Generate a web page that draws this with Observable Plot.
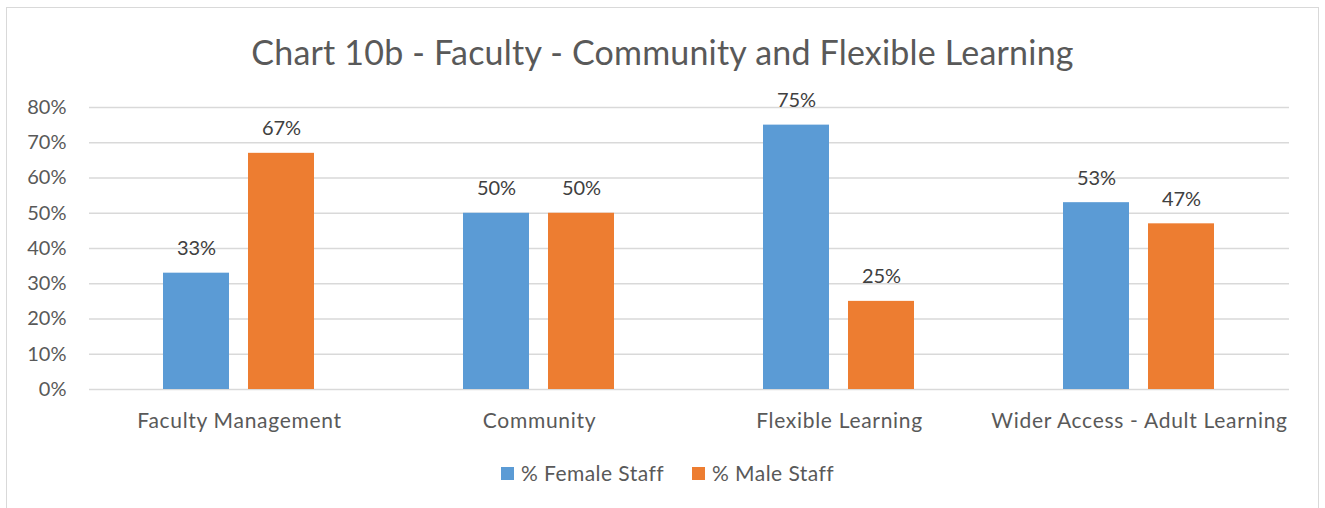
<!DOCTYPE html>
<html><head><meta charset="utf-8">
<script src="https://cdn.jsdelivr.net/npm/d3@7"></script>
<script src="https://cdn.jsdelivr.net/npm/@observablehq/plot@0.6"></script>
<style>
body{margin:0;background:#fff;font-family:Lato,"Open Sans",sans-serif;}
#wrap{position:relative;width:1325px;height:508px;overflow:hidden;background:#fff;}
#frame{position:absolute;left:6px;top:7px;width:1313px;height:540px;border:1.5px solid #d9d9d9;box-sizing:border-box;}
#chart{position:absolute;left:0;top:0;}
#title{position:absolute;left:0;top:35px;width:1325px;text-align:center;font-size:34px;line-height:34px;letter-spacing:0.2px;color:#595959;white-space:nowrap;}
#legend{position:absolute;left:5px;top:461px;width:1325px;display:flex;justify-content:center;align-items:center;font-size:21px;letter-spacing:0.45px;line-height:24px;color:#595959;}
.item{display:flex;align-items:center;margin:0 14px;}
.sw{width:13px;height:13px;margin-right:7px;}
#chart svg g[aria-label="fx-axis tick label"] text{letter-spacing:0.7px;}
</style></head>
<body>
<div id="wrap">
  <div id="frame"></div>
  <div id="chart"></div>
  <div id="title"></div>
  <div id="legend"></div>
</div>
<script>
const titleText = "Chart 10b - Faculty - Community and Flexible Learning";
const categories = ["Faculty Management", "Community", "Flexible Learning", "Wider Access - Adult Learning"];
const series = ["% Female Staff", "% Male Staff"];
const femaleValues = [0.33, 0.50, 0.75, 0.53];
const maleValues = [0.67, 0.50, 0.25, 0.47];
const yTicks = [0, 0.1, 0.2, 0.3, 0.4, 0.5, 0.6, 0.7, 0.8];
const colors = ["#5B9BD5", "#ED7D31"];

const data = [];
categories.forEach((c, i) => {
  data.push({category: c, series: series[0], value: femaleValues[i]});
  data.push({category: c, series: series[1], value: maleValues[i]});
});
const pct = d => Math.round(d * 100) + "%";

const chart = Plot.plot({
  width: 1325,
  height: 508,
  marginLeft: 88,
  marginRight: 35,
  marginTop: 107,
  marginBottom: 119,
  style: {fontFamily: "Lato, 'Open Sans', sans-serif", fontSize: "20px", color: "#595959", background: "transparent"},
  fx: {domain: categories, padding: 0, label: null, axis: "bottom", tickSize: 0, tickPadding: 23.5},
  x: {domain: series, paddingInner: 0.221, paddingOuter: 0.8575, axis: null},
  y: {domain: [0, 0.8], ticks: yTicks, tickFormat: pct, tickSize: 0, tickPadding: 23, label: null},
  color: {domain: series, range: colors},
  marks: [
    Plot.ruleY(yTicks, {stroke: "#d9d9d9", strokeWidth: 1.5}),
    Plot.barY(data, {fx: "category", x: "series", y: "value", fill: "series"}),
    Plot.text(data, {fx: "category", x: "series", y: "value", text: d => pct(d.value), dy: -18, lineAnchor: "bottom", fill: "#404040", fontSize: 20})
  ]
});
chart.querySelectorAll('g[aria-label="fx-axis tick label"] text').forEach(t => t.setAttribute("font-size", "21"));
document.getElementById("chart").appendChild(chart);
document.getElementById("title").textContent = titleText;

const legend = document.getElementById("legend");
series.forEach((s, i) => {
  const item = document.createElement("div");
  item.className = "item";
  const sw = document.createElement("div");
  sw.className = "sw";
  sw.style.background = colors[i];
  const t = document.createElement("span");
  t.textContent = s;
  item.appendChild(sw); item.appendChild(t);
  legend.appendChild(item);
});
</script>
</body></html>
